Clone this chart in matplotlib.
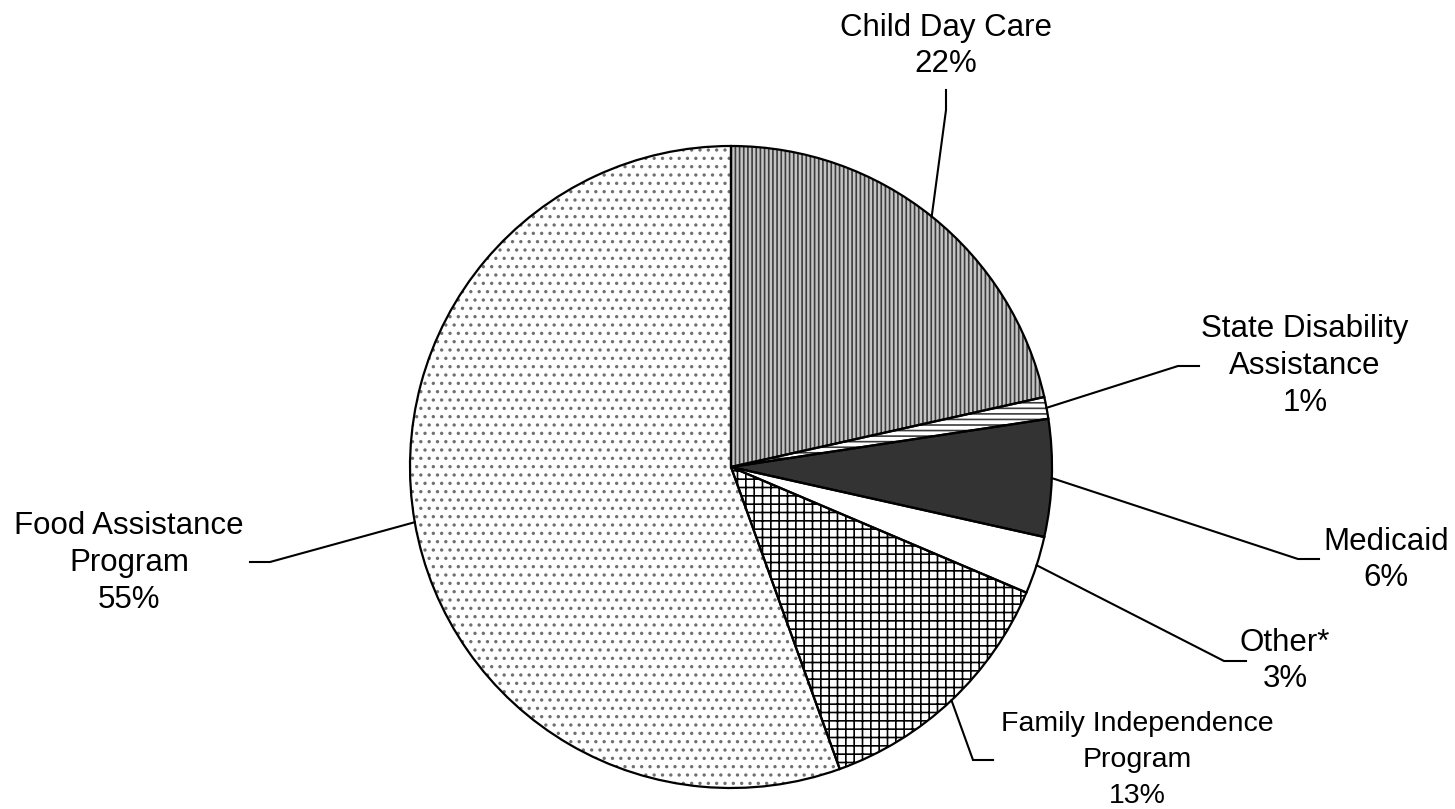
import matplotlib
matplotlib.use('Agg')
import matplotlib.pyplot as plt
import numpy as np

# slice shares (clockwise from 12 o'clock)
categories = ['Child Day Care', 'State Disability\nAssistance', 'Medicaid',
              'Other*', 'Family Independence\nProgram', 'Food Assistance\nProgram']
shares = [21.5, 1.1, 5.9, 2.9, 13.1, 55.5]
pct_labels = ['22%', '1%', '6%', '3%', '13%', '55%']

faces = ['#c4c4c4', 'white', '#333333', 'white', 'white', 'white']
hatches = ['||||', '---', '', '', '++', '..']
hatch_colors = ['#3c3c3c', '#3c3c3c', '#333333', 'white', 'black', '#707070']

H = 809
cx, cy, rad = 731, 467, 321

# elbow / end of leader lines and text centres (pixel coords, y down)
elbows = [(946, 110), (1178, 366), (1298, 559), (1224, 661), (973, 760), (270, 562)]
ends = [(946, 90), (1199, 366), (1319, 559), (1246, 661), (993, 760), (250, 562)]
text_pos = [(946, 46), (1305, 366), (1386, 560), (1285, 661), (1137, 760), (129, 563)]
font_sizes = [22.5, 22.5, 22.5, 22.5, 20.5, 22.5]
spacings = [1.3, 1.3, 1.3, 1.3, 1.5, 1.3]

plt.rcParams['hatch.linewidth'] = 1.2
plt.rcParams['font.family'] = ['Liberation Sans', 'DejaVu Sans']

fig = plt.figure(figsize=(14.55, 8.09), dpi=100)
ax = fig.add_axes([0, 0, 1, 1])

wedges, _ = ax.pie(shares, startangle=90, counterclock=False,
                   center=(cx, H - cy), radius=rad, colors=faces, hatch=hatches,
                   wedgeprops=dict(linewidth=0))
for w, hc in zip(wedges, hatch_colors):
    w.set_edgecolor(hc)

# black outlines on top
ax.pie(shares, startangle=90, counterclock=False, center=(cx, H - cy), radius=rad,
       wedgeprops=dict(fill=False, edgecolor='black', linewidth=1.6))

for i, w in enumerate(wedges):
    th = np.deg2rad((w.theta1 + w.theta2) / 2)
    x0 = cx + rad * np.cos(th)
    y0 = (H - cy) + rad * np.sin(th)
    ex, ey = elbows[i]
    fx, fy = ends[i]
    ax.plot([x0, ex, fx], [y0, H - ey, H - fy], color='black', lw=1.5,
            solid_joinstyle='miter')
    tx, ty = text_pos[i]
    ax.text(tx, H - ty, categories[i] + '\n' + pct_labels[i], ha='center',
            va='center', fontsize=font_sizes[i], linespacing=spacings[i])

ax.set_xlim(0, 1455)
ax.set_ylim(0, H)
ax.set_aspect('equal')
ax.axis('off')

fig.savefig('out.png', dpi=100, facecolor='white')
